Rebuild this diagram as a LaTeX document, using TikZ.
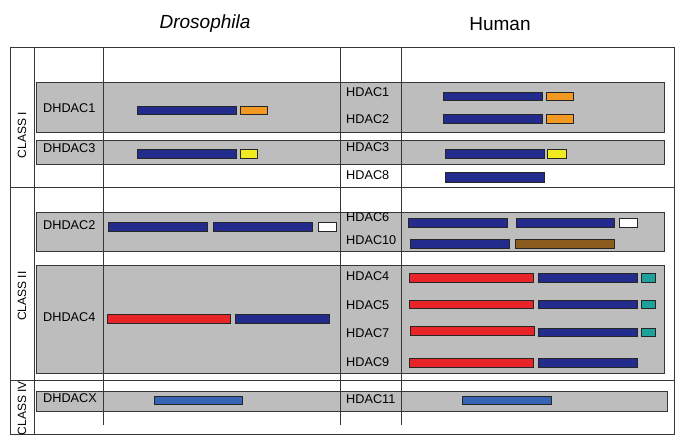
\documentclass[tikz,border=0pt]{standalone}
\usepackage{fontspec}
\setmainfont{Liberation Sans}
\usepackage{xcolor}
\usepackage{tikz}
\usetikzlibrary{positioning}
\definecolor{rowgray}{RGB}{190,189,189}
\definecolor{linegray}{RGB}{55,55,55}
\definecolor{hdblue}{RGB}{35,44,140}
\definecolor{hdorange}{RGB}{244,152,36}
\definecolor{hdyellow}{RGB}{240,235,30}
\definecolor{hdred}{RGB}{232,36,40}
\definecolor{hdbrown}{RGB}{140,92,30}
\definecolor{hdteal}{RGB}{30,160,155}
\definecolor{hdsky}{RGB}{55,100,180}

\begin{document}
\begin{tikzpicture}[
    x=1pt, y=-1pt,
    rowbox/.style={draw=linegray, fill=rowgray, line width=0.9pt},
    grid/.style={draw=linegray, line width=0.9pt},
    dom/.style={draw=black!85, line width=0.7pt},
    lbl/.style={font=\fontsize{12.7}{14}\selectfont, anchor=west, inner sep=0pt},
    classlbl/.style={font=\fontsize{12}{14}\selectfont, rotate=90, inner sep=0pt},
    head/.style={font=\fontsize{19}{21}\selectfont, inner sep=0pt}
]
    \useasboundingbox (0,0) rectangle (685,444);

    % gray rows
    \foreach \xa/\ya/\xb/\yb in {36/82/664/132, 36/140/664/164, 36/212/664/251,
                                 36/265/664/373, 36/391/667/411}
        \draw[rowbox] (\xa,\ya) rectangle (\xb,\yb);

    % table lines
    \draw[grid] (10,47) rectangle (674,434);
    \draw[grid] (34,47) -- (34,434);
    \foreach \x in {103,340,401}
        \draw[grid] (\x,47) -- (\x,425);
    \draw[grid] (10,187) -- (674,187);
    \draw[grid] (10,380) -- (674,380);

    % domains
    \foreach \xa/\ya/\xb/\yb/\c in {
        137/106/236/114/hdblue, 240/106/267/114/hdorange,
        137/149/236/158/hdblue, 240/149/257/158/hdyellow,
        108/222/207/231/hdblue, 213/222/312/231/hdblue, 318/222/336/231/white,
        107/314/230/323/hdred, 235/314/329/323/hdblue,
        154/396/242/404/hdsky,
        443/92/542/100/hdblue, 546/92/573/100/hdorange,
        443/114/542/123/hdblue, 546/114/573/123/hdorange,
        445/149/544/158/hdblue, 547/149/566/158/hdyellow,
        445/172/544/182/hdblue,
        408/218/507/227/hdblue, 516/218/614/227/hdblue, 619/218/637/227/white,
        410/239/509/248/hdblue, 515/239/614/248/hdbrown,
        409/273/533/282/hdred, 538/273/637/282/hdblue, 641/273/655/282/hdteal,
        409/300/533/308/hdred, 538/300/637/308/hdblue, 641/300/655/308/hdteal,
        410/326/534/335/hdred, 538/328/637/336/hdblue, 641/328/655/336/hdteal,
        409/358/533/367/hdred, 538/358/637/367/hdblue,
        462/396/551/404/hdsky}
        \draw[dom, fill=\c] (\xa,\ya) rectangle (\xb,\yb);

    % headings
    \node[head, font=\fontsize{19}{21}\selectfont\itshape] (dros) at (205,24) {Drosophila};
    \node[head] (human) at (500,24) {Human};

    % classes
    \node[classlbl] (classI) at (22,135) {CLASS I};
    \node[classlbl] (classII) at (22,296) {CLASS II};
    \node[classlbl] (classIV) at (22,408) {CLASS IV};

    % Drosophila
    \node[lbl] (dhdac1) at (43,108) {DHDAC1};
    \node[lbl] (dhdac3) at (43,148) {DHDAC3};
    \node[lbl] (dhdac2) at (43,225) {DHDAC2};
    \node[lbl] (dhdac4) at (43,317) {DHDAC4};
    \node[lbl] (dhdacx) at (43,398) {DHDACX};

    % Human
    \node[lbl] (hdac1) at (346,92) {HDAC1};
    \node[lbl] (hdac2) at (346,119) {HDAC2};
    \node[lbl] (hdac3) at (346,147) {HDAC3};
    \node[lbl] (hdac8) at (346,175) {HDAC8};
    \node[lbl] (hdac6) at (346,217) {HDAC6};
    \node[lbl] (hdac10) at (346,240) {HDAC10};
    \node[lbl] (hdac4) at (346,276) {HDAC4};
    \node[lbl] (hdac5) at (346,305) {HDAC5};
    \node[lbl] (hdac7) at (346,333) {HDAC7};
    \node[lbl] (hdac9) at (346,362) {HDAC9};
    \node[lbl] (hdac11) at (346,399) {HDAC11};
\end{tikzpicture}
\end{document}
